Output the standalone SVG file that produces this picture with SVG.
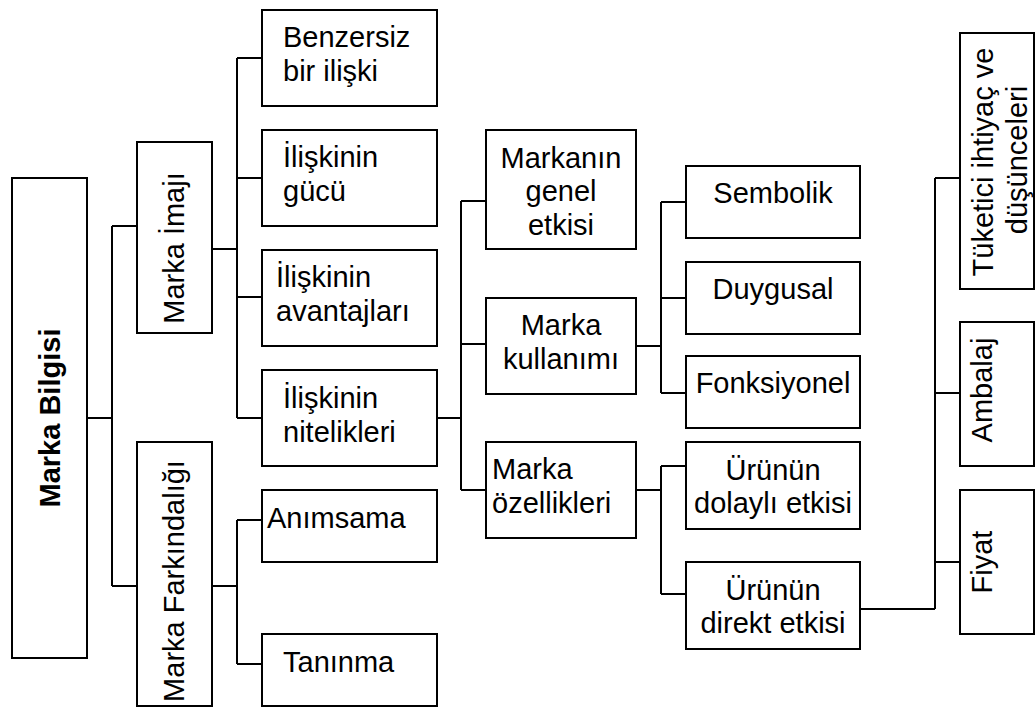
<svg xmlns="http://www.w3.org/2000/svg" width="1035" height="707" viewBox="0 0 1035 707">
  <style>
    .box { fill: #ffffff; stroke: #000000; stroke-width: 2; }
    .lnk { fill: none; stroke: #000000; stroke-width: 2; }
    text { font-family: "Liberation Sans", Arial, sans-serif; font-size: 29px; fill: #000000; }
    .b { font-weight: bold; }
    .m { text-anchor: middle; }
  </style>
  <rect width="1035" height="707" fill="#ffffff"/>

  <!-- connectors -->
  <g id="connectors" class="lnk">
    <path d="M87 418 H112 M112 226 V586 M112 226 H137 M112 586 H137"/>
    <path d="M212 249 H237 M237 58 V418 M237 58 H262 M237 178 H262 M237 297 H262 M237 418 H262"/>
    <path d="M212 586 H237 M237 520 V664 M237 520 H262 M237 664 H262"/>
    <path d="M437 418 H461 M461 201 V490 M461 201 H486 M461 344 H486 M461 490 H486"/>
    <path d="M636 346 H661 M661 202 V393 M661 202 H686 M661 298 H686 M661 393 H686"/>
    <path d="M636 490 H661 M661 466 V594 M661 466 H686 M661 594 H686"/>
    <path d="M860 609 H935 M935 178 V609 M935 178 H960 M935 393 H960 M935 562 H960"/>
  </g>

  <!-- root -->
  <g id="marka-bilgisi">
    <rect class="box" x="12" y="178" width="75" height="480"/>
    <text class="b m" transform="translate(60,418) rotate(-90)">Marka Bilgisi</text>
  </g>

  <!-- level 1 -->
  <g id="marka-imaji">
    <rect class="box" x="137" y="142" width="75" height="191"/>
    <text class="m" transform="translate(184,248) rotate(-90)">Marka İmajı</text>
  </g>
  <g id="marka-farkindaligi">
    <rect class="box" x="137" y="442" width="75" height="264"/>
    <text class="m" transform="translate(184,581) rotate(-90)">Marka Farkındalığı</text>
  </g>

  <!-- level 2 -->
  <g id="benzersiz">
    <rect class="box" x="262" y="10" width="175" height="96"/>
    <text x="283" y="47">Benzersiz</text>
    <text x="283" y="81">bir ilişki</text>
  </g>
  <g id="iliskinin-gucu">
    <rect class="box" x="262" y="130" width="175" height="96"/>
    <text x="283" y="167">İlişkinin</text>
    <text x="283" y="201">gücü</text>
  </g>
  <g id="iliskinin-avantajlari">
    <rect class="box" x="262" y="250" width="175" height="96"/>
    <text x="276" y="287">İlişkinin</text>
    <text x="276" y="321">avantajları</text>
  </g>
  <g id="iliskinin-nitelikleri">
    <rect class="box" x="262" y="370" width="175" height="96"/>
    <text x="283" y="408">İlişkinin</text>
    <text x="283" y="442">nitelikleri</text>
  </g>
  <g id="animsama">
    <rect class="box" x="262" y="490" width="175" height="72"/>
    <text x="267" y="528">Anımsama</text>
  </g>
  <g id="taninma">
    <rect class="box" x="262" y="634" width="175" height="72"/>
    <text x="283" y="672">Tanınma</text>
  </g>

  <!-- level 3 -->
  <g id="markanin-genel-etkisi">
    <rect class="box" x="486" y="130" width="150" height="119"/>
    <text class="m" x="561" y="168">Markanın</text>
    <text class="m" x="561" y="201">genel</text>
    <text class="m" x="561" y="235">etkisi</text>
  </g>
  <g id="marka-kullanimi">
    <rect class="box" x="486" y="298" width="150" height="96"/>
    <text class="m" x="561" y="335">Marka</text>
    <text class="m" x="561" y="369">kullanımı</text>
  </g>
  <g id="marka-ozellikleri">
    <rect class="box" x="486" y="442" width="150" height="96"/>
    <text x="492" y="479">Marka</text>
    <text x="492" y="513">özellikleri</text>
  </g>

  <!-- level 4 -->
  <g id="sembolik">
    <rect class="box" x="686" y="166" width="174" height="72"/>
    <text class="m" x="773" y="203">Sembolik</text>
  </g>
  <g id="duygusal">
    <rect class="box" x="686" y="262" width="174" height="72"/>
    <text class="m" x="773" y="299">Duygusal</text>
  </g>
  <g id="fonksiyonel">
    <rect class="box" x="686" y="356" width="174" height="72"/>
    <text class="m" x="773" y="393">Fonksiyonel</text>
  </g>
  <g id="urunun-dolayli-etkisi">
    <rect class="box" x="686" y="442" width="174" height="87"/>
    <text class="m" x="773" y="480">Ürünün</text>
    <text class="m" x="773" y="513">dolaylı etkisi</text>
  </g>
  <g id="urunun-direkt-etkisi">
    <rect class="box" x="686" y="562" width="174" height="87"/>
    <text class="m" x="773" y="600">Ürünün</text>
    <text class="m" x="773" y="633">direkt etkisi</text>
  </g>

  <!-- level 5 -->
  <g id="tuketici">
    <rect class="box" x="960" y="33" width="74" height="256"/>
    <text class="m" transform="translate(993,162) rotate(-90)">Tüketici ihtiyaç ve</text>
    <text class="m" transform="translate(1027,160) rotate(-90)">düşünceleri</text>
  </g>
  <g id="ambalaj">
    <rect class="box" x="960" y="322" width="74" height="144"/>
    <text class="m" transform="translate(992,390) rotate(-90)">Ambalaj</text>
  </g>
  <g id="fiyat">
    <rect class="box" x="960" y="490" width="74" height="144"/>
    <text class="m" transform="translate(992,562) rotate(-90)">Fiyat</text>
  </g>
</svg>
